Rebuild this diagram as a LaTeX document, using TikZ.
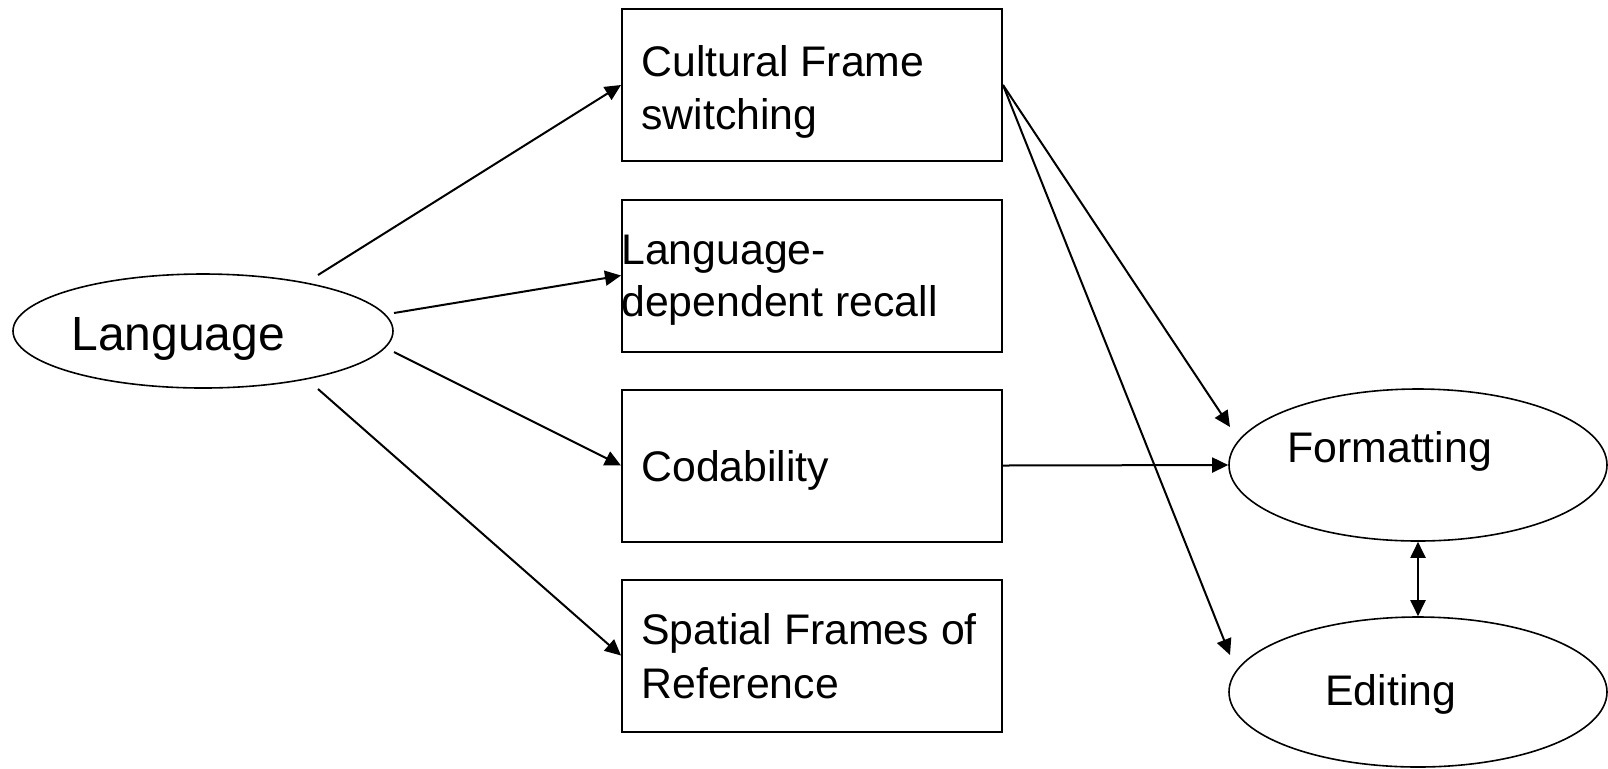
\documentclass[tikz,border=0pt]{standalone}
\usepackage{fontspec}
\setmainfont{Liberation Sans}
\usetikzlibrary{arrows.meta,calc,shapes.geometric}

\tikzset{
  stage/.style={draw=black, line width=1pt, rectangle, minimum width=190pt,
    minimum height=76pt, inner sep=0pt},
  oval/.style={draw=black, line width=0.8pt, ellipse, inner sep=0pt},
  txt/.style={inner sep=0pt, font=\fontsize{21.4}{26.5}\selectfont, align=left},
  tip/.style={Triangle[length=8pt, width=7.5pt]},
  link/.style={line width=1pt, -{Triangle[length=8pt, width=7.5pt]}},
  twoway/.style={line width=1pt, {Triangle[length=8pt, width=7.5pt]}-{Triangle[length=8pt, width=7.5pt]}}
}

\begin{document}
\begin{tikzpicture}[x=0.5pt, y=-0.5pt]
  \useasboundingbox (0,0) rectangle (1608,768);

  % source
  \node[oval, minimum width=190pt, minimum height=57pt] (lang) at (203,331) {};
  \node[txt, anchor=base west, font=\fontsize{24}{28}\selectfont] (tlang) at (71,350) {Language};

  % mediating effects
  \node[stage] (cfs) at (812,85) {};
  \node[stage] (ldr) at (812,275.5) {};
  \node[stage] (cod) at (812,465.5) {};
  \node[stage] (sfr) at (812,655.5) {};

  \node[txt, anchor=north west] (tcfs) at (641,45) {Cultural Frame\\switching};
  \node[txt, anchor=north west, font=\fontsize{21.4}{26}\selectfont] (tldr) at (621,235) {Language-\\dependent recall};
  \node[txt, anchor=base west] (tcod) at (641,481) {Codability};
  \node[txt, anchor=north west, font=\fontsize{21.4}{27}\selectfont] (tsfr) at (641,613) {Spatial Frames of\\Reference};

  % outcomes
  \node[oval, minimum width=189pt, minimum height=76pt] (fmt) at (1418,465) {};
  \node[oval, minimum width=189pt, minimum height=75pt] (edt) at (1418,692) {};
  \node[txt, anchor=base west] (tfmt) at (1287,462) {Formatting};
  \node[txt, anchor=base west] (tedt) at (1325,705) {Editing};

  % free ends of the connectors
  \coordinate (l1) at ($(lang.center)+(115,-56)$);
  \coordinate (l2) at ($(lang.center)+(191,-18)$);
  \coordinate (l3) at ($(lang.center)+(191,21)$);
  \coordinate (l4) at ($(lang.center)+(115,58)$);
  \coordinate (f1) at ($(fmt.center)+(-188,-38)$);
  \coordinate (e1) at ($(edt.center)+(-188,-37)$);

  % connectors
  \draw[link] (l1) -- (cfs.west);
  \draw[link] (l2) -- (ldr.west);
  \draw[link] (l3) -- (cod.west);
  \draw[link] (l4) -- (sfr.west);
  \draw[link] (cfs.east) -- (f1);
  \draw[link] (cfs.east) -- (e1);
  \draw[link] (cod.east) -- (fmt.west);
  \draw[twoway] (fmt.south) -- (edt.north);
\end{tikzpicture}
\end{document}
